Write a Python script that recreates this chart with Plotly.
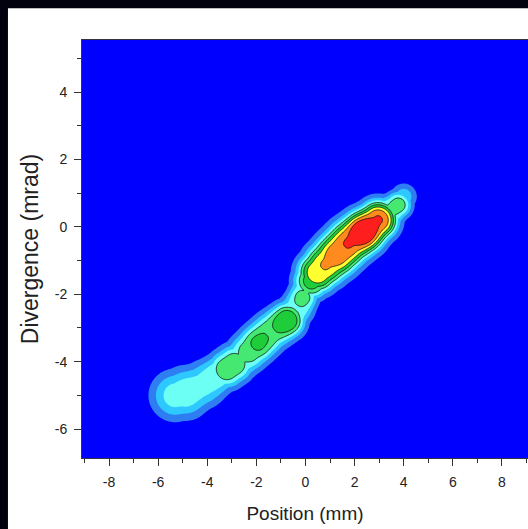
import numpy as np
import plotly.graph_objects as go

# Beam ridge: centre-line points (Position mm, Divergence mrad),
# relative intensity at each point and local half-width (mm-equivalent screen units)
ridge_x = [-5.3, -4.9, -4.2, -3.5, -3.2, -2.9, -2.67, -2.3, -1.93, -1.4, -0.76, -0.35,
           -0.12, 0.0, 0.25, 0.5, 0.85, 1.3, 1.8, 2.35, 2.95, 3.35, 3.77, 4.0]
ridge_y = [-5.0, -4.93, -4.7, -4.35, -4.22, -4.07, -3.95, -3.7, -3.45, -3.1, -2.78, -2.42,
           -2.1, -1.85, -1.6, -1.35, -1.1, -0.8, -0.45, -0.15, 0.2, 0.42, 0.65, 0.9]
ridge_amp = [0.29, 0.31, 0.29, 0.33, 0.43, 0.43, 0.35, 0.42, 0.48, 0.44, 0.55, 0.34,
             0.40, 0.33, 0.50, 0.64, 0.66, 0.73, 0.76, 0.88, 0.76, 0.36, 0.41, 0.20]
ridge_w = [0.72, 0.74, 0.66, 0.58, 0.58, 0.58, 0.57, 0.58, 0.58, 0.58, 0.56, 0.50,
           0.46, 0.46, 0.56, 0.64, 0.68, 0.70, 0.70, 0.68, 0.62, 0.50, 0.42, 0.38]

levels_start, levels_end, levels_step = 0.05, 0.75, 0.1
band_colors = ['#0000FF', '#2F7DF2', '#2CC8FF', '#6CFFF4', '#45E870',
               '#1FCC3A', '#FFFF30', '#FF8A1E', '#FF1E1E']

x_ticks = [-8, -6, -4, -2, 0, 2, 4, 6, 8]
x_ticktext = ['-8', '-6', '-4', '-2', '0', '2', '4', '6', '8']
y_ticks = [-6, -4, -2, 0, 2, 4]
y_ticktext = ['-6', '-4', '-2', '0', '2', '4']
x_minor = [-9, -7, -5, -3, -1, 1, 3, 5, 7, 9]
y_minor = [-5, -3, -1, 1, 3, 5]
x_range = [-9.10, 9.06]
y_range = [-6.86, 5.55]

# ---- build intensity map from the ridge description ----
k = 33.67 / 24.56   # screen aspect: mrad -> mm-equivalent
p = 3.0             # flat-topped cross-section
gx = np.linspace(x_range[0], x_range[1], 560)
gy = np.linspace(y_range[0], y_range[1], 420)
X, Y = np.meshgrid(gx, gy)
Yd = Y * k
Z = np.zeros_like(X)
rx = np.array(ridge_x); ry = np.array(ridge_y) * k
ra = np.array(ridge_amp); rw = np.array(ridge_w)
for i in range(len(rx) - 1):
    ax_, ay_ = rx[i], ry[i]
    bx_, by_ = rx[i + 1], ry[i + 1]
    dx, dy = bx_ - ax_, by_ - ay_
    L2 = dx * dx + dy * dy
    t = np.clip(((X - ax_) * dx + (Yd - ay_) * dy) / L2, 0, 1)
    s = t * t * (3 - 2 * t)
    amp = ra[i] + (ra[i + 1] - ra[i]) * s
    w = rw[i] + (rw[i + 1] - rw[i]) * s
    d = np.sqrt((X - (ax_ + t * dx)) ** 2 + (Yd - (ay_ + t * dy)) ** 2)
    Z = np.maximum(Z, amp * np.exp(-0.5 * (d / w) ** p))

n = len(band_colors)
colorscale = [[i / (n - 1), c] for i, c in enumerate(band_colors)]

fig = go.Figure()
fig.add_trace(go.Contour(
    x=gx, y=gy, z=Z, colorscale=colorscale, showscale=False,
    autocontour=False,
    contours=dict(start=levels_start, end=levels_end, size=levels_step, coloring='fill'),
    line=dict(width=0, smoothing=1.0), hoverinfo='skip'))
fig.add_trace(go.Contour(
    x=gx, y=gy, z=Z, showscale=False, autocontour=False,
    contours=dict(start=0.35, end=levels_end, size=levels_step, coloring='none'),
    line=dict(color='#101010', width=0.8, smoothing=1.0), hoverinfo='skip'))

font_family = 'Arial, Liberation Sans, sans-serif'
axis_common = dict(showgrid=False, zeroline=False, ticks='outside', ticklen=7,
                   tickwidth=1, tickcolor='#333333', showline=True, linecolor='#333344',
                   linewidth=1, mirror=True, ticklabelstandoff=4,
                   tickfont=dict(family=font_family, size=14, color='#222222'))
fig.update_xaxes(range=x_range, tickmode='array', tickvals=x_ticks, ticktext=x_ticktext,
                 minor=dict(tickmode='array', tickvals=x_minor, ticks='outside', ticklen=4,
                            tickcolor='#333333', tickwidth=1),
                 title=dict(text='Position (mm)', font=dict(family=font_family, size=19, color='#222222'),
                            standoff=17),
                 **axis_common)
fig.update_yaxes(range=y_range, tickmode='array', tickvals=y_ticks, ticktext=y_ticktext,
                 minor=dict(tickmode='array', tickvals=y_minor, ticks='outside', ticklen=4,
                            tickcolor='#333333', tickwidth=1),
                 title=dict(text='Divergence (mrad)', font=dict(family=font_family, size=23, color='#222222'),
                            standoff=9),
                 **axis_common)

fig.update_layout(
    width=528, height=529, margin=dict(l=82, r=0, t=40, b=71),
    paper_bgcolor='white', plot_bgcolor='#0000FF', showlegend=False,
    shapes=[
        dict(type='rect', xref='paper', yref='paper', x0=-0.3, x1=1.2, y0=1.076, y1=1.3,
             fillcolor='#02020E', line=dict(width=0), layer='above'),
        dict(type='rect', xref='paper', yref='paper', x0=-0.3, x1=-0.166, y0=-0.3, y1=1.3,
             fillcolor='#02020E', line=dict(width=0), layer='above'),
    ])

fig.write_html('out.html', config={'displayModeBar': False},
               post_script="document.body.style.margin='0';document.body.style.overflow='hidden';")
